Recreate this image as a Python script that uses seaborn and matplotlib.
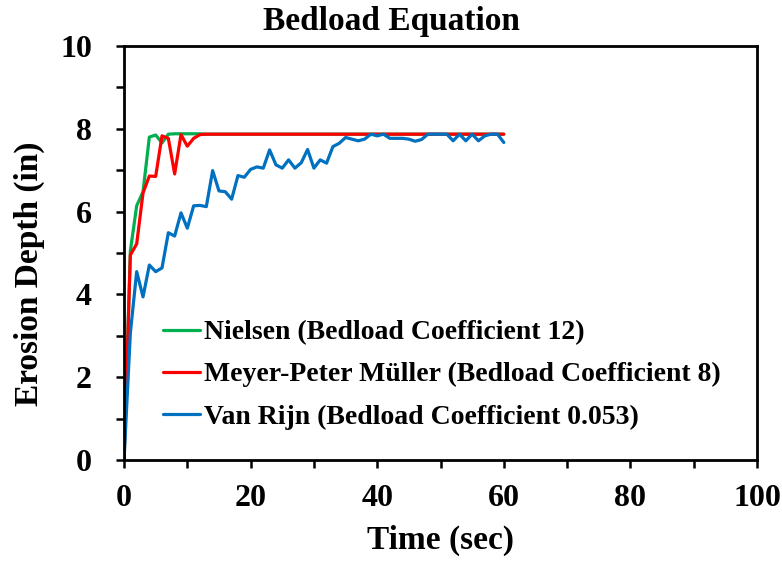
import matplotlib
matplotlib.use("Agg")
import matplotlib.pyplot as plt
from matplotlib.ticker import MultipleLocator
import numpy as np
import pandas as pd
import seaborn as sns

# Erosion depth over time for three bedload transport equations
time_sec = list(range(0, 61))

nielsen = [0, 5.05, 6.14, 6.48, 7.80, 7.85, 7.66, 7.87, 7.88, 7.88,
           7.88, 7.88, 7.88, 7.87, 7.87, 7.87, 7.87, 7.87, 7.87, 7.87,
           7.87, 7.87, 7.87, 7.87, 7.87, 7.87, 7.87, 7.87, 7.87, 7.87,
           7.87, 7.87, 7.87, 7.87, 7.87, 7.87, 7.87, 7.87, 7.87, 7.87,
           7.87, 7.87, 7.87, 7.87, 7.87, 7.87, 7.87, 7.87, 7.87, 7.87,
           7.87, 7.87, 7.87, 7.87, 7.87, 7.87, 7.87, 7.87, 7.87, 7.87,
           7.87]

meyer_peter_muller = [0, 4.95, 5.22, 6.45, 6.86, 6.85, 7.83, 7.77, 6.91, 7.86,
                      7.58, 7.77, 7.86, 7.87, 7.87, 7.87, 7.87, 7.87, 7.87, 7.87,
                      7.87, 7.87, 7.87, 7.87, 7.87, 7.87, 7.87, 7.87, 7.87, 7.87,
                      7.87, 7.87, 7.87, 7.87, 7.87, 7.87, 7.87, 7.87, 7.87, 7.87,
                      7.87, 7.87, 7.87, 7.87, 7.87, 7.87, 7.87, 7.87, 7.87, 7.87,
                      7.87, 7.87, 7.87, 7.87, 7.87, 7.87, 7.87, 7.87, 7.87, 7.87,
                      7.87]

van_rijn = [0, 3.07, 4.55, 3.94, 4.71, 4.55, 4.64, 5.49, 5.41, 5.97,
            5.60, 6.14, 6.15, 6.12, 6.99, 6.50, 6.48, 6.30, 6.87, 6.83,
            7.02, 7.08, 7.05, 7.49, 7.13, 7.05, 7.25, 7.05, 7.18, 7.50,
            7.05, 7.25, 7.17, 7.57, 7.65, 7.79, 7.75, 7.71, 7.75, 7.87,
            7.83, 7.87, 7.77, 7.77, 7.77, 7.75, 7.70, 7.74, 7.87, 7.87,
            7.87, 7.87, 7.71, 7.87, 7.71, 7.87, 7.71, 7.83, 7.87, 7.87,
            7.67]

series_names = ["Nielsen (Bedload Coefficient 12)",
                "Meyer-Peter Müller (Bedload Coefficient 8)",
                "Van Rijn (Bedload Coefficient 0.053)"]
series_colors = ["#00B050", "#FF0000", "#0070C0"]

df = pd.concat([
    pd.DataFrame({"Time": time_sec, "Depth": vals, "Equation": name})
    for name, vals in zip(series_names, [nielsen, meyer_peter_muller, van_rijn])
], ignore_index=True)

sns.set_theme(style="ticks")
plt.rcParams["font.family"] = ["Liberation Serif", "DejaVu Serif"]
plt.rcParams["font.weight"] = "bold"
for key in ["text.color", "axes.labelcolor", "xtick.color", "ytick.color",
            "axes.edgecolor"]:
    plt.rcParams[key] = "black"

fig = plt.figure(figsize=(7.82, 5.61), dpi=100)
ax = fig.add_axes([0.1586, 0.18, 0.8094, 0.738])

sns.lineplot(data=df, x="Time", y="Depth", hue="Equation",
             hue_order=series_names, palette=series_colors,
             sort=False, linewidth=2.3, ax=ax, estimator=None)

ax.set_xlim(0, 100)
ax.set_ylim(0, 10)
ax.xaxis.set_major_locator(MultipleLocator(20))
ax.xaxis.set_minor_locator(MultipleLocator(10))
ax.yaxis.set_major_locator(MultipleLocator(2))
ax.yaxis.set_minor_locator(MultipleLocator(1))

for side in ["top", "right", "bottom", "left"]:
    ax.spines[side].set_visible(True)
    ax.spines[side].set_linewidth(2.0)
    ax.spines[side].set_color("black")

ax.tick_params(which="both", direction="out", length=6, width=1.8,
               color="black", top=False, right=False)
ax.tick_params(axis="x", which="major", pad=11, labelsize=23)
ax.tick_params(axis="y", which="major", pad=17, labelsize=23)

for lbl in ax.get_xticklabels() + ax.get_yticklabels():
    lbl.set_fontweight("bold")

ax.set_xlabel("Time (sec)", fontsize=24, fontweight="bold", labelpad=9)
ax.set_ylabel("Erosion Depth (in)", fontsize=24, fontweight="bold")
ax.yaxis.set_label_coords(-0.125, 0.45)
fig.suptitle("Bedload Equation", x=0.5, y=0.962, va="center",
             fontsize=24, fontweight="bold")

leg = ax.legend(loc="center left", bbox_to_anchor=(0.062, 0.206),
                frameon=False, fontsize=20, handlelength=1.31,
                handletextpad=0.15, labelspacing=0.6, borderpad=0,
                borderaxespad=0)
for t in leg.get_texts():
    t.set_fontweight("bold")
for h in leg.get_lines():
    h.set_linewidth(2.3)

fig.savefig("out.png", dpi=100)
